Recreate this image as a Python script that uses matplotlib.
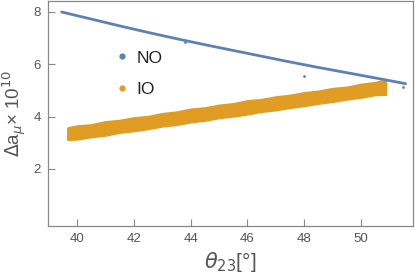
import numpy as np
import matplotlib
matplotlib.use("Agg")
import matplotlib.pyplot as plt

plt.rcParams['font.family'] = ['Liberation Sans', 'DejaVu Sans']
plt.rcParams['mathtext.fontset'] = 'dejavusans'

# NO: upper curve (dense points forming a line) + a few stray points
no_theta = [39.46, 40.5, 41.5, 42.5, 43.5, 44.5, 45.5, 46.5, 47.5, 48.5, 49.5, 50.5, 51.57]
no_val = [8.00, 7.73, 7.47, 7.22, 6.98, 6.75, 6.53, 6.31, 6.09, 5.88, 5.68, 5.48, 5.26]
no_stray_theta = [43.8, 48.0, 51.47]
no_stray_val = [6.86, 5.55, 5.13]

# IO: band of points, upper and lower edges
io_theta = [39.66, 40.0, 40.5, 41.0, 41.5, 42.0, 42.5, 43.0, 43.5, 44.0, 44.5, 45.0,
            45.5, 46.0, 46.5, 47.0, 47.5, 48.0, 48.5, 49.0, 49.5, 50.0, 50.5, 50.87]
io_upper = [3.58, 3.66, 3.70, 3.82, 3.87, 3.97, 4.02, 4.13, 4.19, 4.30, 4.35, 4.45,
            4.51, 4.62, 4.67, 4.77, 4.83, 4.93, 4.99, 5.09, 5.14, 5.25, 5.32, 5.42]
io_lower = [3.12, 3.13, 3.22, 3.28, 3.39, 3.45, 3.53, 3.63, 3.69, 3.79, 3.85, 3.95,
            4.01, 4.09, 4.19, 4.25, 4.34, 4.41, 4.50, 4.57, 4.66, 4.73, 4.83, 4.84]

blue = '#5E81B5'
orange = '#E19C24'
grey = '#555555'

fig = plt.figure(figsize=(4.15, 2.79), dpi=100)
ax = fig.add_axes([48 / 415, 53 / 279, 365 / 415, 225 / 279])

ax.plot(no_theta, no_val, color=blue, lw=2.0, solid_capstyle='round')
ax.plot(no_stray_theta, no_stray_val, 'o', color=blue, ms=2.0, mew=0)
ax.fill_between(io_theta, io_lower, io_upper, color=orange, lw=1.2, edgecolor=orange)

# legend handles
ax.plot([], [], 'o', color=blue, ms=4.5, mew=0, label='NO')
ax.plot([], [], 'o', color=orange, ms=4.5, mew=0, label='IO')
ax.legend(loc='upper left', bbox_to_anchor=(0.145, 0.85), frameon=False,
          fontsize=12.5, handlelength=0.6, handletextpad=0.55, labelspacing=0.95,
          labelcolor='#222222')

ax.set_xlim(38.98, 51.83)
ax.set_ylim(-0.18, 8.42)
ax.set_xticks([40, 42, 44, 46, 48, 50])
ax.set_yticks([2, 4, 6, 8])
ax.tick_params(direction='in', length=5, width=0.8, color='#888888',
               labelcolor=grey, labelsize=9.5, pad=5)
for s in ax.spines.values():
    s.set_color('#888888')
    s.set_linewidth(0.9)

ax.set_xlabel(r'$\theta_{23}$[°]', fontsize=15, color=grey, labelpad=4)
ax.set_ylabel(r'$\Delta$a$_\mu$× 10$^{10}$', fontsize=13.5, color=grey)
ax.yaxis.set_label_coords(-0.052, 0.5)

fig.savefig('out.png', dpi=100)
